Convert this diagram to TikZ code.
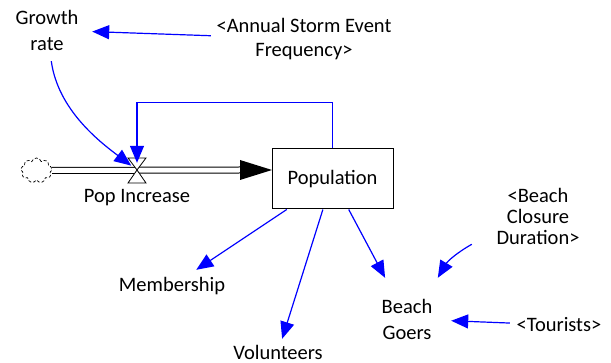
\documentclass[tikz,border=0pt]{standalone}
\usepackage{fontspec}
\setmainfont{Carlito}
\usetikzlibrary{arrows.meta,shapes.symbols}
\tikzset{
  var/.style={align=center, inner sep=2pt, font=\fontsize{20.5}{26}\selectfont},
  shadowvar/.style={var, font=\fontsize{20.5}{21}\selectfont},
  link/.style={blue, line width=1.2pt, -{Triangle[length=17pt,width=14pt]}},
  stock/.style={draw, line width=1pt, minimum width=121pt, minimum height=60pt,
    inner sep=0pt, font=\fontsize{20.5}{26}\selectfont},
  pipe/.style={line width=1pt, double, double distance=5pt},
}
\begin{document}
\begin{tikzpicture}[x=1pt, y=-1pt]
            % the frame
            \useasboundingbox (0,0) rectangle (611,363);
            % the stock and its flow
            \node[stock] (pop) at (332.5,179) {Population};
            \node[cloud, draw, densely dashed, line width=0.7pt, cloud puffs=9,
                  aspect=1.3, inner sep=0pt, minimum width=31pt, minimum height=25pt]
                  (source) at (36.5,170.5) {};
            \coordinate (inlet) at (272,170);
            \node[circle, minimum size=14pt, inner sep=0pt] (valve) at (137,170) {};
            \draw[pipe] (source) -- ([xshift=-32pt]inlet);
            \fill ([xshift=-32pt, yshift=10pt]inlet) -- (inlet)
                -- ([xshift=-32pt, yshift=-10pt]inlet) -- cycle;
            \draw[fill=white, line width=0.8pt] (128,158) -- (146,158) -- (137,170) -- cycle;
            \draw[fill=white, line width=0.8pt] (137,170) -- (128,183) -- (146,183) -- cycle;

            % the variables
            \node[var, minimum width=90pt, minimum height=62pt] (rate) at (47,30) {Growth\\rate};
            \node[shadowvar, font=\fontsize{20.5}{24.5}\selectfont, minimum width=186pt]
                (storm) at (304,39) {<Annual Storm Event\\Frequency>};
            \node[var] (inc) at (137,198) {Pop Increase};
            \node[var, minimum height=32pt] (member) at (172,286) {Membership};
            \node[var, minimum height=26pt] (vol) at (278,352) {Volunteers};
            \node[var, minimum width=88pt, minimum height=82pt] (goers) at (407,319) {Beach\\Goers};
            \node[shadowvar, minimum width=132pt] (closure) at (538,216) {<Beach\\Closure\\Duration>};
            \node[shadowvar, minimum width=98pt] (tourists) at (559,325) {<Tourists>};

            % the links
            \draw[link] (storm) -- (rate);
            \draw[link] (rate) .. controls (58,110) and (100,142) .. (valve);
            \draw[link] (pop.north) -- ++(0,-46) -| (valve);
            \draw[link] (pop) -- (member);
            \draw[link] (pop) -- (vol);
            \draw[link] (pop) -- (goers);
            \draw[link] (closure) to[bend right=15] (goers);
            \draw[link] (tourists) -- (goers);
\end{tikzpicture}
\end{document}
